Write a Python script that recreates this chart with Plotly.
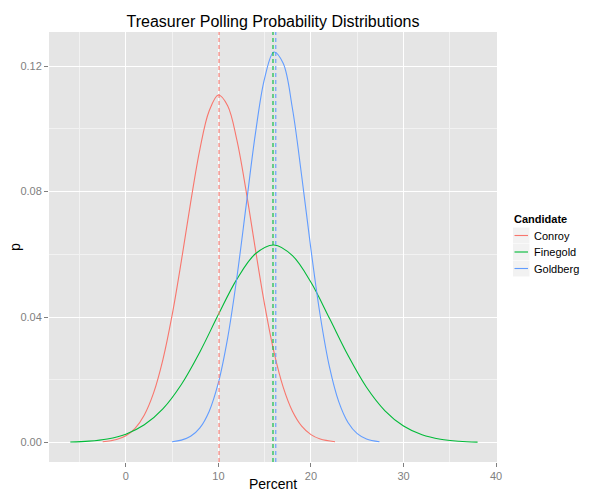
import plotly.graph_objects as go

# -----------------------------
# Data
# -----------------------------
candidates = ["Conroy", "Finegold", "Goldberg"]
colors = ["#F8766D", "#00BA38", "#619CFF"]
means = [10.07, 15.9, 16.2]

conroy_x = [-2.5, -1, 0, 1, 2, 3, 4, 5, 6, 7, 8, 9, 10, 11, 12, 13, 14, 15, 16, 17, 18, 19, 20, 21, 22.6]
conroy_p = [0.00024, 0.00096, 0.00216, 0.00454, 0.00882, 0.01584, 0.02637, 0.0406, 0.0579, 0.0765,
            0.0935, 0.1057, 0.1108, 0.1074, 0.0964, 0.0801, 0.0616, 0.0439, 0.0289, 0.01765,
            0.00997, 0.00522, 0.00253, 0.00113, 0.00027]

finegold_x = [-6, -4, -2, 0, 2, 4, 6, 8, 10, 12, 14, 16, 18, 20, 22, 24, 26, 28, 30, 32, 34, 36, 38]
finegold_p = [0.00016, 0.00045, 0.00115, 0.00268, 0.00565, 0.01075, 0.01853, 0.0289, 0.0408, 0.0521,
              0.0602, 0.0630, 0.0596, 0.0511, 0.0396, 0.0278, 0.01763, 0.01013, 0.00527, 0.00248,
              0.00105, 0.00041, 0.00014]

goldberg_x = [5, 6, 7, 8, 9, 10, 11, 12, 13, 14, 15, 16, 17, 18, 19, 20, 21, 22, 23, 24, 25, 26, 27.4]
goldberg_p = [0.00027, 0.00078, 0.0020, 0.00468, 0.00993, 0.01908, 0.0333, 0.0527, 0.0756, 0.0985,
              0.1162, 0.1245, 0.1209, 0.1065, 0.0850, 0.0616, 0.0405, 0.0241, 0.01304, 0.0064,
              0.00284, 0.00115, 0.00027]

series_x = [conroy_x, finegold_x, goldberg_x]
series_p = [conroy_p, finegold_p, goldberg_p]

x_ticks = [0, 10, 20, 30, 40]
y_ticks = [0.00, 0.04, 0.08, 0.12]

# -----------------------------
# Theme
# -----------------------------
PANEL_BG = "#E5E5E5"
MINOR_GRID = "#F2F2F2"
TICK_GREY = "#7F7F7F"
FONT = "Liberation Sans, Arial, sans-serif"

# the page body has an 8px margin, so the figure is drawn 8px in
OFF = 8
W, H = 600 - OFF, 500 - OFF
# panel box in screen pixels
L, R, T, B = 49 - OFF, 497 - OFF, 32 - OFF, 462 - OFF


def px_x(p):
    # screen pixel -> paper coordinate
    return (p - OFF - L) / (R - L)


def px_y(p):
    return (B - (p - OFF)) / (B - T)


fig = go.Figure()

for name, col, xs, ps in zip(candidates, colors, series_x, series_p):
    fig.add_trace(go.Scatter(
        x=xs, y=ps, mode="lines", name=name,
        line=dict(color=col, width=1.1, shape="spline", smoothing=1),
        showlegend=False, hoverinfo="skip"
    ))

# dashed mean lines
for m, col in zip(means, colors):
    fig.add_shape(type="line", xref="x", yref="y domain",
                  x0=m, x1=m, y0=0, y1=1,
                  line=dict(color=col, width=1.1, dash="4px,3px"))

# hand-made legend in ggplot style
fig.add_annotation(text="<b>Candidate</b>", xref="paper", yref="paper",
                   x=px_x(512), y=px_y(219), xanchor="left", yanchor="middle",
                   showarrow=False, font=dict(size=11, color="black", family=FONT))
row_centers = [235.5, 252, 268.5]
for name, col, cy in zip(candidates, colors, row_centers):
    fig.add_shape(type="rect", xref="paper", yref="paper",
                  x0=px_x(513), x1=px_x(529.5), y0=px_y(cy + 8), y1=px_y(cy - 8),
                  fillcolor="#F2F2F2", line=dict(width=0))
    fig.add_shape(type="line", xref="paper", yref="paper",
                  x0=px_x(514.5), x1=px_x(528), y0=px_y(cy), y1=px_y(cy),
                  line=dict(color=col, width=1.1))
    fig.add_annotation(text=name, xref="paper", yref="paper",
                       x=px_x(532), y=px_y(cy), xanchor="left", yanchor="middle",
                       showarrow=False, font=dict(size=11, color="black", family=FONT))

# axis titles
fig.add_annotation(text="Percent", xref="paper", yref="paper",
                   x=px_x(273), y=px_y(484), xanchor="center", yanchor="middle",
                   showarrow=False, font=dict(size=14, color="black", family=FONT))
fig.add_annotation(text="p", xref="paper", yref="paper", textangle=-90,
                   x=px_x(15), y=px_y(247), xanchor="center", yanchor="middle",
                   showarrow=False, font=dict(size=14, color="black", family=FONT))

fig.update_layout(
    width=W, height=H,
    margin=dict(l=L, r=W - R, t=T, b=H - B),
    paper_bgcolor="white",
    plot_bgcolor=PANEL_BG,
    font=dict(family=FONT, color="black"),
    title=dict(text="Treasurer Polling Probability Distributions",
               x=px_x(273), xref="paper", xanchor="center",
               y=1 - (21 - OFF) / H, yanchor="middle",
               font=dict(size=16, color="black")),
    showlegend=False,
    xaxis=dict(
        range=[-8.3, 40.1],
        tickvals=x_ticks,
        ticktext=[str(v) for v in x_ticks],
        ticks="outside", ticklen=4, tickcolor=TICK_GREY, tickwidth=1,
        tickfont=dict(size=11, color=TICK_GREY),
        showgrid=True, gridcolor="white", gridwidth=1.2,
        minor=dict(dtick=5, tick0=-5, showgrid=True, gridcolor=MINOR_GRID, gridwidth=1),
        zeroline=False, showline=False, automargin=False,
    ),
    yaxis=dict(
        range=[-0.0062, 0.1309],
        tickvals=y_ticks,
        ticktext=["%.2f" % v for v in y_ticks],
        ticks="outside", ticklen=4, tickcolor=TICK_GREY, tickwidth=1,
        tickfont=dict(size=11, color=TICK_GREY),
        showgrid=True, gridcolor="white", gridwidth=1.2,
        minor=dict(dtick=0.02, tick0=0.02, showgrid=True, gridcolor=MINOR_GRID, gridwidth=1),
        zeroline=False, showline=False, automargin=False,
    ),
)

fig.write_html("out.html")
